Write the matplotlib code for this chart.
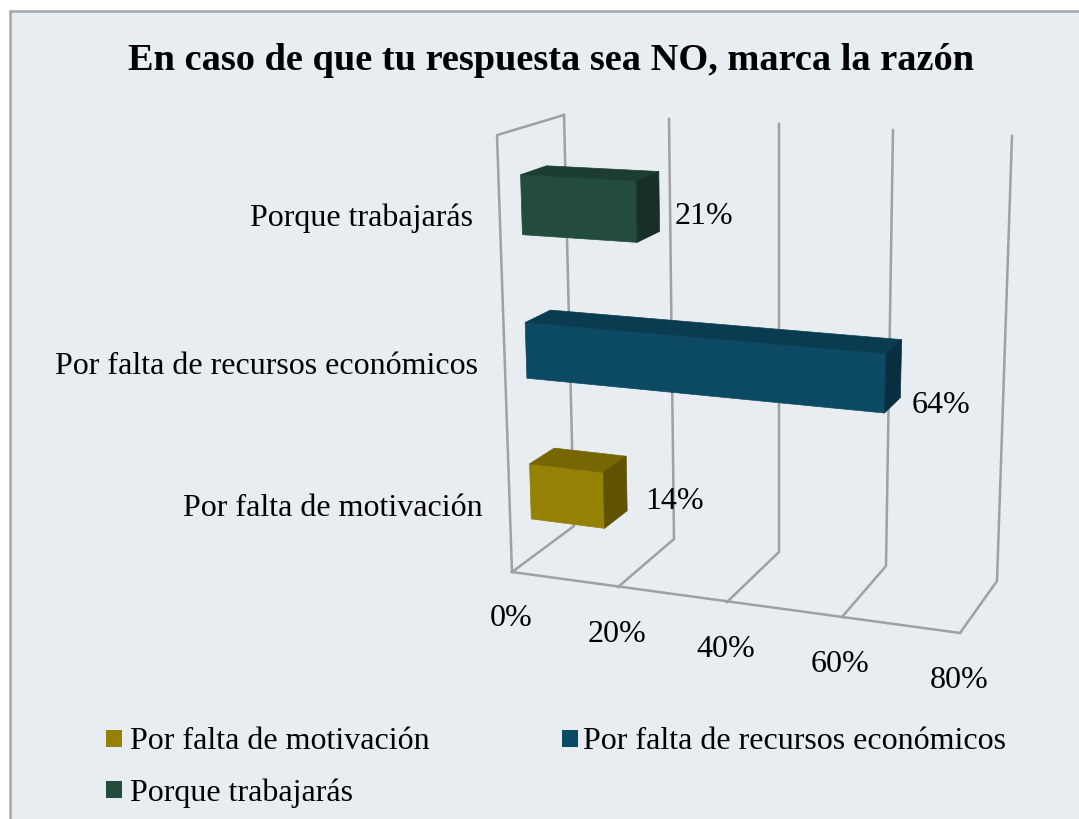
import numpy as np
import matplotlib
matplotlib.use('Agg')
import matplotlib.pyplot as plt
from matplotlib.patches import Polygon, Rectangle

plt.rcParams['font.family'] = ['Liberation Serif', 'DejaVu Serif']

title = 'En caso de que tu respuesta sea NO, marca la razón'
categories = ['Por falta de motivación', 'Por falta de recursos económicos', 'Porque trabajarás']
values = [14, 64, 21]
value_labels = ['14%', '64%', '21%']
ticks = [0, 20, 40, 60, 80]
tick_labels = ['0%', '20%', '40%', '60%', '80%']

# colours per bar: front, top, side
bar_colors = [('#968107', '#776604', '#5F5203'),
              ('#0C4A63', '#0A3C51', '#082F40'),
              ('#234C3E', '#1D3D32', '#172F28')]
bg = '#E8EDF2'
grid_color = '#A0A0A0'

# fake 3D box, measured in pixels off the picture
front_x = [512, 618, 727, 842, 960]
front_y = [573, 588, 603, 618, 634]
back_x = [574, 674, 779, 886, 997]
back_y = [527, 540, 553, 567, 582]
top_x = [564, 669, 779, 893, 1012]
top_y = [116, 120, 125, 131, 137]
wall_scale_x = 1.5
wall_scale_y = 1.063


def proj(v, d, h):
    fx, fy = np.interp(v, ticks, front_x), np.interp(v, ticks, front_y)
    bx, by = np.interp(v, ticks, back_x), np.interp(v, ticks, back_y)
    tx, ty = np.interp(v, ticks, top_x), np.interp(v, ticks, top_y)
    # top of the front plane is not drawn except at 0, derive it from the back edge
    ftx, fty = fx + (tx - bx) * wall_scale_x, fy + (ty - by) * wall_scale_y
    x0, y0 = fx + d * (bx - fx), fy + d * (by - fy)
    x1, y1 = ftx + d * (tx - ftx), fty + d * (ty - fty)
    return (x0 + h * (x1 - x0), y0 + h * (y1 - y0))


fig = plt.figure(figsize=(10.79, 8.2), dpi=100, facecolor='white')
ax = fig.add_axes([0, 0, 1, 1])
ax.set_xlim(0, 1079)
ax.set_ylim(820, 0)
ax.axis('off')

# chart area with its border (no right or bottom edge visible)
ax.add_patch(Rectangle((9.5, 12), 1075, 815, facecolor=bg, edgecolor='#A6A6A6', linewidth=1.8, zorder=0))

# grid lines
for t in ticks:
    pts = [proj(t, 0, 0), proj(t, 1, 0), proj(t, 1, 1)]
    ax.plot([p[0] for p in pts], [p[1] for p in pts], color=grid_color, lw=1.8, zorder=1)
pts = [proj(0, 0, 0), proj(80, 0, 0)]
ax.plot([p[0] for p in pts], [p[1] for p in pts], color=grid_color, lw=1.8, zorder=1)
pts = [proj(0, 0, 0), proj(0, 0, 1), proj(0, 1, 1)]
ax.plot([p[0] for p in pts], [p[1] for p in pts], color=grid_color, lw=1.8, zorder=1)

# bars
d0, d1 = 0.33, 0.72
bar_bottom = [0.0885, 0.417, 0.752]
bar_top = [0.217, 0.547, 0.892]
for i, v in enumerate(values):
    h0, h1 = bar_bottom[i], bar_top[i]
    c_front, c_top, c_side = bar_colors[i]
    ax.add_patch(Polygon([proj(0, d0, h0), proj(v, d0, h0), proj(v, d0, h1), proj(0, d0, h1)],
                         facecolor=c_front, edgecolor=c_front, lw=0.5, zorder=3))
    ax.add_patch(Polygon([proj(0, d0, h1), proj(v, d0, h1), proj(v, d1, h1), proj(0, d1, h1)],
                         facecolor=c_top, edgecolor=c_top, lw=0.5, zorder=3))
    ax.add_patch(Polygon([proj(v, d0, h0), proj(v, d1, h0), proj(v, d1, h1), proj(v, d0, h1)],
                         facecolor=c_side, edgecolor=c_side, lw=0.5, zorder=3))

fs = 23
cat_pos = [(483, 508), (478, 367), (473, 218)]
for name, (x, y) in zip(categories, cat_pos):
    ax.text(x, y, name, ha='right', va='center', fontsize=fs, color='black', zorder=5)

label_pos = [(675, 502), (941, 406), (704, 216)]
for lab, (x, y) in zip(value_labels, label_pos):
    ax.text(x, y, lab, ha='center', va='center', fontsize=fs, color='black', zorder=5)

tick_pos = [(511, 619), (617, 635), (726, 650), (840, 665), (959, 681)]
for lab, (x, y) in zip(tick_labels, tick_pos):
    ax.text(x, y, lab, ha='center', va='center', fontsize=fs, color='black', zorder=5)

ax.text(551, 61, title, ha='center', va='center', fontsize=27.6, fontweight='bold', color='black', zorder=5)

# legend: swatch x, text x, row y
legend_pos = [(106, 130, 739), (562, 583, 739), (106, 130, 790)]
for name, c, (x, tx, y) in zip(categories, bar_colors, legend_pos):
    ax.add_patch(Rectangle((x, y - 8.5), 16, 17, facecolor=c[0], edgecolor='none', zorder=4))
    ax.text(tx, y + 3, name, ha='left', va='center', fontsize=fs, color='black', zorder=5)

fig.savefig('out.png', dpi=100)
